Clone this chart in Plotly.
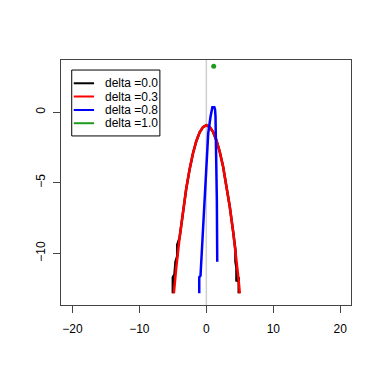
import plotly.graph_objects as go

# curves (log-density style curves per delta)
x_d00 = [-5.0, -5.0, -4.75, -4.6, -4.34, -4.34, -4.0, -3.5, -3.0, -2.5, -2.0, -1.5, -1.0, -0.5, 0.0,
         0.5, 1.0, 1.5, 2.0, 2.5, 3.0, 3.5, 4.0, 4.35, 4.35, 4.5, 4.5, 4.84, 4.84]
y_d00 = [-12.84, -11.7, -11.5, -10.6, -10.2, -9.4, -8.92, -7.05, -5.42, -4.05, -2.92, -2.05, -1.42, -1.05, -0.92,
         -1.04, -1.39, -1.98, -2.8, -3.85, -5.15, -6.7, -8.45, -9.8, -10.6, -11.0, -12.0, -11.7, -12.84]

x_d03 = [-4.85, -4.7, -4.5, -4.0, -3.5, -3.0, -2.5, -2.0, -1.5, -1.0, -0.5, 0.0,
         0.5, 1.0, 1.5, 2.0, 2.5, 3.0, 3.5, 4.0, 4.5, 4.8, 5.0]
y_d03 = [-12.84, -11.9, -11.05, -8.92, -7.05, -5.42, -4.05, -2.92, -2.05, -1.42, -1.05, -0.92,
         -1.04, -1.39, -1.98, -2.8, -3.85, -5.15, -6.7, -8.45, -10.4, -11.8, -12.84]

x_d08 = [-1.06, -1.06, -0.87, -0.6, -0.27, 0.0, 0.28, 0.63, 0.8, 0.9, 1.2, 1.3, 1.37, 1.5, 1.57, 1.63]
y_d08 = [-12.84, -11.7, -11.6, -9.0, -6.2, -3.9, -1.5, -0.3, 0.22, 0.35, 0.35, 0.2, -0.3, -3.0, -6.2, -10.6]

x_d10 = [1.1]
y_d10 = [3.26]

labels = ["delta =0.0", "delta =0.3", "delta =0.8", "delta =1.0"]
colors = ["black", "red", "blue", "#1f9a1f"]

FONT = "Liberation Sans, Arial, sans-serif"

fig = go.Figure()
fig.add_trace(go.Scatter(x=x_d00, y=y_d00, mode="lines", line=dict(color=colors[0], width=2.5)))
fig.add_trace(go.Scatter(x=x_d03, y=y_d03, mode="lines", line=dict(color=colors[1], width=2.5)))
fig.add_trace(go.Scatter(x=x_d08, y=y_d08, mode="lines", line=dict(color=colors[2], width=2.5)))
fig.add_trace(go.Scatter(x=x_d10, y=y_d10, mode="markers", marker=dict(color=colors[3], size=5)))

# vertical reference line at 0
fig.add_shape(type="line", xref="x", yref="paper", x0=0, x1=0, y0=0, y1=1,
              line=dict(color="#cfcfcf", width=1.5), layer="below")

# hand-made legend box, R style
fig.add_shape(type="rect", xref="paper", yref="paper", x0=0.037, x1=0.341, y0=0.690, y1=0.959,
              line=dict(color="black", width=1), fillcolor="white")
rows = [0.905, 0.851, 0.796, 0.742]
for lab, col, yy in zip(labels, colors, rows):
    fig.add_shape(type="line", xref="paper", yref="paper", x0=0.044, x1=0.114, y0=yy, y1=yy,
                  line=dict(color=col, width=2))
    fig.add_annotation(xref="paper", yref="paper", x=0.146, y=yy, text=lab, showarrow=False,
                       xanchor="left", yanchor="middle", font=dict(size=12, color="black", family=FONT))

axis_common = dict(showgrid=False, zeroline=False, showline=True, linecolor="#444", linewidth=1,
                   mirror=True, ticks="outside", ticklen=7, tickcolor="#444",
                   tickfont=dict(size=12, color="black", family=FONT))
fig.update_xaxes(range=[-21.7, 21.6], tickvals=[-20, -10, 0, 10, 20],
                 ticktext=["\u221220", "\u221210", "0", "10", "20"], ticklabelstandoff=6, **axis_common)
fig.update_yaxes(range=[-13.67, 3.71], tickvals=[-10, -5, 0],
                 ticktext=["\u221210", "\u22125", "0"], tickangle=-90, ticklabelstandoff=3, **axis_common)

# page body adds an 8px offset, so margins are shifted to land the plot box where the reference has it
fig.update_layout(width=382, height=381, showlegend=False,
                  margin=dict(l=53, r=39, t=52, b=84),
                  plot_bgcolor="white", paper_bgcolor="white",
                  font=dict(family=FONT))
fig.write_html("out.html")
